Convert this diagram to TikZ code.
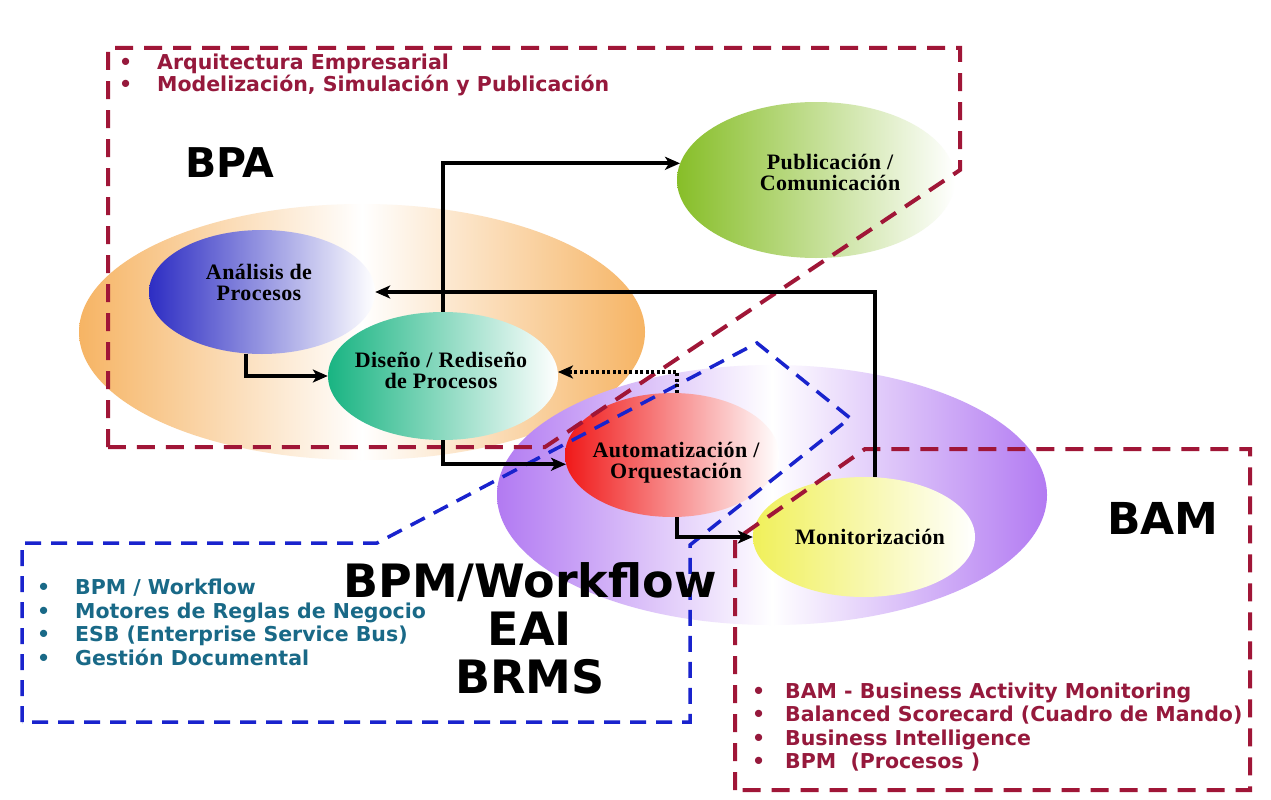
\documentclass[tikz,border=0pt]{standalone}
\usepackage{fontspec}
\setmainfont{Liberation Serif}
\newfontfamily\headfont{DejaVu Sans}
\newfontfamily\stagefamily{Liberation Serif}[LetterSpace=2]
\usetikzlibrary{shapes.geometric,arrows.meta}

\definecolor{boxred}{RGB}{160,22,55}
\definecolor{boxblue}{RGB}{25,35,205}
\definecolor{txtred}{RGB}{150,25,60}
\definecolor{txtteal}{RGB}{25,105,135}
\definecolor{bpaorange}{RGB}{246,180,100}
\definecolor{bpmpurple}{RGB}{178,122,242}
\definecolor{anablue}{RGB}{45,45,195}
\definecolor{disgreen}{RGB}{25,180,130}
\definecolor{pubgreen}{RGB}{135,190,40}
\definecolor{autred}{RGB}{240,25,25}
\definecolor{monyellow}{RGB}{240,240,90}

\newcommand\stagefont{\stagefamily\bfseries\fontsize{22}{21}\selectfont}
\newcommand\listfont{\headfont\bfseries\fontsize{20.5}{22}\selectfont}

\tikzset{
  zone/.style={ellipse, inner sep=0pt, draw=none},
  stage/.style={ellipse, inner sep=0pt, draw=none, right color=white},
  stagetext/.style={inner sep=0pt, align=center, font=\stagefont},
  flow/.style={line width=4pt, -{Stealth[length=15pt,width=13pt,inset=4pt]}},
  dotflow/.style={line width=4pt, dash pattern=on 3pt off 2.5pt, -{Stealth[length=15pt,width=13pt,inset=4pt]}},
  redbox/.style={draw=boxred, line width=4pt, dash pattern=on 18pt off 11pt},
  bluebox/.style={draw=boxblue, line width=3.5pt, dash pattern=on 16pt off 10pt},
  bigtxt/.style={font=\headfont\bfseries\fontsize{44}{49}\selectfont, inner sep=0pt, align=center},
  bpaitem/.style={anchor=base west, inner sep=0pt, font=\listfont, text=txtred},
  bpmitem/.style={anchor=base west, inner sep=0pt, font=\listfont, text=txtteal},
  bamitem/.style={anchor=base west, inner sep=0pt, font=\listfont, text=txtred},
}

\begin{document}
\begin{tikzpicture}[x=1pt,y=-1pt]
\useasboundingbox (0,0) rectangle (1271,800);
\fill[white] (0,0) rectangle (1271,800);

% background zones
\node[zone, minimum width=566pt, minimum height=256pt,
      left color=bpaorange, right color=bpaorange, middle color=white] (bpa) at (362,332) {};
\node[zone, minimum width=550pt, minimum height=260pt,
      left color=bpmpurple, right color=bpmpurple, middle color=white] (bpm) at (772,495) {};

% process stages
\node[stage, minimum width=226pt, minimum height=124pt, left color=anablue] (ana) at (262,292) {};
\node[stage, minimum width=230pt, minimum height=128pt, left color=disgreen] (dis) at (443,376) {};
\node[stage, minimum width=278pt, minimum height=156pt, left color=pubgreen] (pub) at (816,180) {};
\node[stage, minimum width=214pt, minimum height=124pt, left color=autred] (aut) at (672,455) {};
\node[stage, minimum width=222pt, minimum height=120pt, left color=monyellow] (mon) at (864,537) {};

\node[stagetext] (anatext) at (259,282) {Análisis de\\Procesos};
\node[stagetext] (distext) at (441,370) {Diseño / Rediseño\\de Procesos};
\node[stagetext] (pubtext) at (830,172) {Publicación /\\Comunicación};
\node[stagetext] (auttext) at (676,463) {Automatización /\\Orquestación};
\node[stagetext] (montext) at (870,537) {Monitorización};

% dashed areas
\draw[redbox] (108,447) -- (108,48) -- (960,48) -- (960,170) -- (545,447) -- cycle;
\draw[bluebox] (22,722) -- (22,543) -- (377,543) -- (757,343) -- (850,418) -- (690,545) -- (690,722) -- cycle;
\draw[redbox] (735,790) -- (735,540) -- (865,449) -- (1250,449) -- (1250,790) -- cycle;

% process flow
\draw[flow] (dis.north) |- (pub.173);
\draw[flow] (mon.80) |- (ana.east);
\draw[flow] (ana.-105) |- (dis.west);
\draw[flow] (dis.south) |- (aut.185);
\draw[flow] (aut.-85) |- (mon.west);
\draw[dotflow] (aut.85) |- (dis.2);

% titles
\node[bigtxt, font=\headfont\bfseries\fontsize{41}{49}\selectfont] (bpatitle) at (230,163) {BPA};
\node[bigtxt] (bamtitle) at (1163,518) {BAM};
\node[bigtxt, font=\headfont\bfseries\fontsize{46}{48}\selectfont] (bpmtitle) at (530,628) {BPM/Workflow\\EAI\\BRMS};

% item lists
\foreach \t [count=\i] in {Arquitectura Empresarial, {Modelización, Simulación y Publicación}}
  \node[bpaitem] (bpaitem\i) at (119,{48+22*\i}) {\makebox[38pt][l]{•}\t};
\foreach \t [count=\i] in {BPM / Workflow, Motores de Reglas de Negocio, ESB (Enterprise Service Bus), Gestión Documental}
  \node[bpmitem] (bpmitem\i) at (37,{571+23.5*\i}) {\makebox[38pt][l]{•}\t};
\foreach \t [count=\i] in {BAM - Business Activity Monitoring, Balanced Scorecard (Cuadro de Mando), Business Intelligence, BPM~~(Procesos~)}
  \node[bamitem] (bamitem\i) at (752,{674.5+23.5*\i}) {\makebox[33pt][l]{•}\t};
\end{tikzpicture}
\end{document}
